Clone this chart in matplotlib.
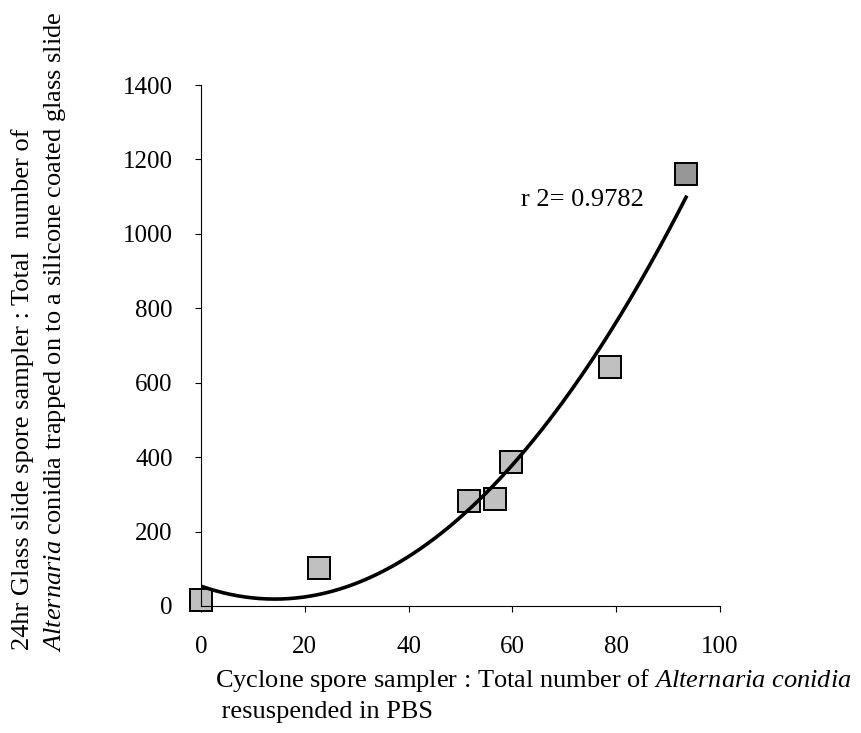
import numpy as np
import matplotlib
matplotlib.use("Agg")
import matplotlib.pyplot as plt

plt.rcParams["font.family"] = "Liberation Serif"
plt.rcParams["mathtext.fontset"] = "custom"
plt.rcParams["mathtext.rm"] = "Liberation Serif"
plt.rcParams["mathtext.it"] = "Liberation Serif:italic"

# spore counts: cyclone sampler vs 24hr glass slide sampler
cyclone = [0, 22.8, 51.6, 56.6, 59.7, 78.8, 93.5]
glass_slide = [15, 102, 281, 287, 388, 643, 1162]
fill_colors = ["#c0c0c0"] * 6 + ["#969696"]

x_ticks = [0, 20, 40, 60, 80, 100]
y_ticks = [0, 200, 400, 600, 800, 1000, 1200, 1400]
r2_label = "r 2= 0.9782"


def plot_spores():
    fig = plt.figure(figsize=(8.62, 7.33), dpi=100)
    ax = fig.add_axes([0.2332, 0.1733, 0.6018, 0.7107])

    # second order polynomial trendline over the data range
    coef = np.polyfit(cyclone, glass_slide, 2)
    xs = np.linspace(min(cyclone), max(cyclone), 200)
    ax.plot(xs, np.polyval(coef, xs), color="black", lw=2.6, zorder=3)

    for x, y, c in zip(cyclone, glass_slide, fill_colors):
        ax.plot(x, y, marker="s", ms=16.5, mfc=c, mec="black", mew=1.4,
                linestyle="none", clip_on=False, zorder=2)

    ax.text(61.6, 1092, r2_label, fontsize=19, ha="left", va="center")

    ax.set_xlim(0, 100)
    ax.set_ylim(0, 1400)
    ax.set_xticks(x_ticks)
    ax.set_yticks(y_ticks)
    ax.tick_params(axis="x", direction="out", length=4.5, width=0.8, labelsize=18, pad=17)
    ax.tick_params(axis="y", direction="out", length=4.5, width=0.8, labelsize=18, pad=16)
    for side in ["top", "right"]:
        ax.spines[side].set_visible(False)
    for side in ["left", "bottom"]:
        ax.spines[side].set_linewidth(0.8)

    fig.text(0.249, 0.072, r"Cyclone spore sampler : Total number of $\it{Alternaria\ conidia}$",
             fontsize=19, ha="left", va="center")
    fig.text(0.249, 0.029, " resuspended in PBS", fontsize=19, ha="left", va="center")

    fig.text(0.026, 0.113, "24hr Glass slide spore sampler : Total  number of",
             fontsize=19, rotation=90, ha="center", va="bottom")
    fig.text(0.064, 0.111, r"$\it{Alternaria}$ conidia trapped on to a silicone coated glass slide",
             fontsize=19, rotation=90, ha="center", va="bottom")

    fig.savefig("out.png", dpi=100)


if __name__ == "__main__":
    plot_spores()
